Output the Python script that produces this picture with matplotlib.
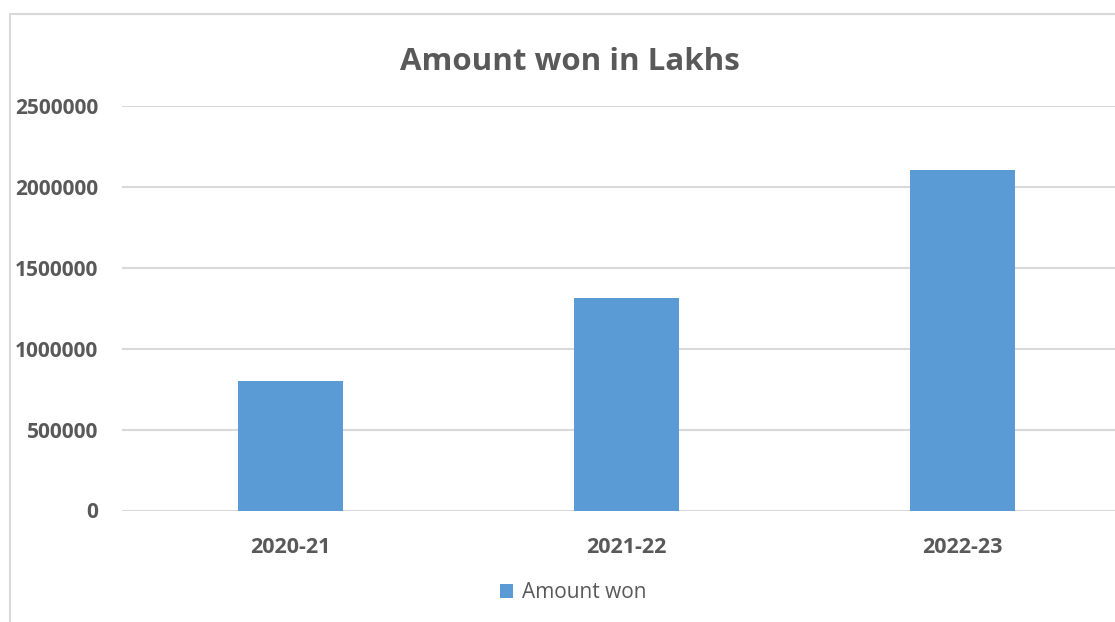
import matplotlib.pyplot as plt
from matplotlib.patches import Rectangle

years = ['2020-21', '2021-22', '2022-23']
amount_won = [802000, 1316000, 2106000]
y_ticks = [0, 500000, 1000000, 1500000, 2000000, 2500000]

plt.rcParams['font.family'] = ['Open Sans', 'DejaVu Sans']
gris = '#595959'

fig = plt.figure(figsize=(11.15, 6.22), dpi=100)
W, H = 1115, 622

# marco del grafico (recortado a la derecha y abajo)
fig.patches.append(Rectangle((10 / W, -0.1), 1.2, 1.1 - 14 / H, transform=fig.transFigure,
                             fill=False, edgecolor='#D9D9D9', linewidth=1.5))

ax = fig.add_axes([122 / W, 111.5 / H, 1008 / W, 404.5 / H])
ax.bar(years, amount_won, width=0.3125, color='#5B9BD5', label='Amount won', zorder=3)
ax.set_xlim(-0.5, 2.5)
ax.set_ylim(0, 2500000)
ax.set_yticks(y_ticks)
ax.set_yticklabels([str(v) for v in y_ticks])
ax.grid(axis='y', color='#D9D9D9', linewidth=1.5, zorder=0)
for s in ax.spines.values():
    s.set_visible(False)
ax.tick_params(length=0)
ax.tick_params(axis='y', pad=17, labelsize=15, labelcolor=gris)
ax.tick_params(axis='x', pad=19, labelsize=15.5, labelcolor=gris)
for lbl in ax.get_xticklabels() + ax.get_yticklabels():
    lbl.set_fontweight('bold')

fig.text(570 / W, 1 - 62 / H, 'Amount won in Lakhs', ha='center', va='center',
         fontsize=22.5, fontweight='bold', color=gris)

fig.legend(loc='center', bbox_to_anchor=(573 / W, 1 - 593 / H), frameon=False,
           fontsize=15, labelcolor=gris, handlelength=0.65, handleheight=0.65, handletextpad=0.4)

fig.savefig('out.png', dpi=100)
